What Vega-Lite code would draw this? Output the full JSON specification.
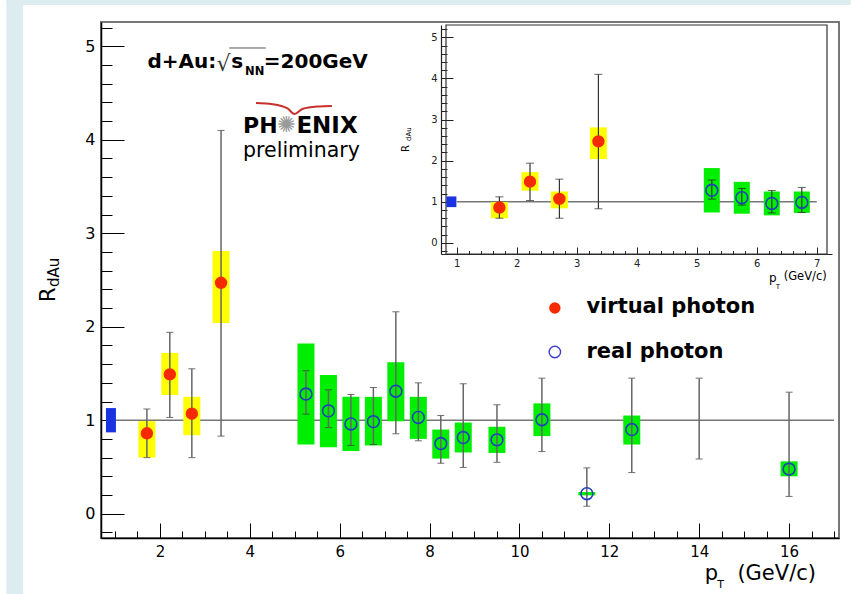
{
  "$schema": "https://vega.github.io/schema/vega-lite/v6.json",
  "width": 738,
  "height": 516,
  "autosize": {"type": "none"},
  "padding": {"left": 101, "top": 22, "right": 17, "bottom": 56},
  "background": "#ffffff",
  "config": {
    "view": {"stroke": "#777777", "strokeWidth": 2},
    "font": "DejaVu Sans",
    "axis": {"labelFont": "DejaVu Sans", "grid": false, "title": null, "domainColor": "#000000", "tickColor": "#000000", "labelColor": "#000000", "zindex": 1, "labelFlush": false, "labelOverlap": false, "format": "d"}
  },
  "datasets": {
    "virtual": [
      {"pt": 1.71, "r": 0.86, "elo": 0.60, "ehi": 1.12, "slo": 0.60, "shi": 0.99},
      {"pt": 2.22, "r": 1.49, "elo": 1.03, "ehi": 1.94, "slo": 1.27, "shi": 1.72},
      {"pt": 2.71, "r": 1.07, "elo": 0.60, "ehi": 1.55, "slo": 0.84, "shi": 1.25},
      {"pt": 3.36, "r": 2.47, "elo": 0.83, "ehi": 4.10, "slo": 2.04, "shi": 2.81}
    ],
    "real": [
      {"pt": 5.25, "r": 1.28, "elo": 1.065, "ehi": 1.53, "slo": 0.74, "shi": 1.82},
      {"pt": 5.75, "r": 1.10, "elo": 0.92, "ehi": 1.325, "slo": 0.71, "shi": 1.485},
      {"pt": 6.25, "r": 0.96, "elo": 0.73, "ehi": 1.275, "slo": 0.67, "shi": 1.25},
      {"pt": 6.75, "r": 0.985, "elo": 0.74, "ehi": 1.35, "slo": 0.73, "shi": 1.25},
      {"pt": 7.25, "r": 1.31, "elo": 0.855, "ehi": 2.16, "slo": 0.99, "shi": 1.62},
      {"pt": 7.75, "r": 1.03, "elo": 0.78, "ehi": 1.40, "slo": 0.80, "shi": 1.25},
      {"pt": 8.25, "r": 0.75, "elo": 0.54, "ehi": 1.05, "slo": 0.59, "shi": 0.90},
      {"pt": 8.75, "r": 0.815, "elo": 0.495, "ehi": 1.39, "slo": 0.655, "shi": 0.975},
      {"pt": 9.5, "r": 0.79, "elo": 0.55, "ehi": 1.165, "slo": 0.65, "shi": 0.93},
      {"pt": 10.5, "r": 1.005, "elo": 0.665, "ehi": 1.45, "slo": 0.83, "shi": 1.18},
      {"pt": 11.5, "r": 0.214, "elo": 0.08, "ehi": 0.49, "slo": 0.196, "shi": 0.232},
      {"pt": 12.5, "r": 0.90, "elo": 0.44, "ehi": 1.45, "slo": 0.74, "shi": 1.05},
      {"pt": 14, "r": null, "elo": 0.585, "ehi": 1.45, "slo": null, "shi": null},
      {"pt": 16, "r": 0.477, "elo": 0.185, "ehi": 1.30, "slo": 0.40, "shi": 0.56}
    ],
    "norm": [{"pt": 0.91, "lo": 0.87, "hi": 1.13}],
    "logo": [
      {"lx": 4.137, "ly": 4.393},
      {"lx": 4.510, "ly": 4.380},
      {"lx": 4.839, "ly": 4.335},
      {"lx": 4.993, "ly": 4.276},
      {"lx": 5.168, "ly": 4.330},
      {"lx": 5.498, "ly": 4.356},
      {"lx": 5.827, "ly": 4.362}
    ]
  },
  "resolve": {"scale": {"x": "independent", "y": "independent"}},
  "layer": [
    {
      "resolve": {"axis": {"x": "independent", "y": "independent"}},
      "layer": [
        {
          "data": {"name": "virtual"},
          "mark": {"type": "point", "opacity": 0},
          "encoding": {
            "x": {"field": "pt", "type": "quantitative", "scale": {"domain": [0.8, 17], "nice": false, "zero": false},
              "axis": {"orient": "bottom", "values": [1,1.5,2,2.5,3,3.5,4,4.5,5,5.5,6,6.5,7,7.5,8,8.5,9,9.5,10,10.5,11,11.5,12,12.5,13,13.5,14,14.5,15,15.5,16,16.5,17], "tickSize": -7, "labels": false, "domainWidth": 1.5}},
            "y": {"field": "r", "type": "quantitative", "scale": {"domain": [-0.26, 5.26], "nice": false, "zero": false},
              "axis": {"orient": "left", "values": [-0.2,0,0.2,0.4,0.6,0.8,1,1.2,1.4,1.6,1.8,2,2.2,2.4,2.6,2.8,3,3.2,3.4,3.6,3.8,4,4.2,4.4,4.6,4.8,5,5.2], "tickSize": -11, "labels": false, "domainWidth": 1.5}}
          }
        },
        {
          "data": {"name": "virtual"},
          "mark": {"type": "point", "opacity": 0},
          "encoding": {
            "x": {"field": "pt", "type": "quantitative", "scale": {"domain": [0.8, 17], "nice": false, "zero": false},
              "axis": {"orient": "bottom", "values": [2,4,6,8,10,12,14,16], "tickSize": -15, "labelPadding": 21, "labelFontSize": 15, "domain": false}},
            "y": {"field": "r", "type": "quantitative", "scale": {"domain": [-0.26, 5.26], "nice": false, "zero": false},
              "axis": {"orient": "left", "values": [0,1,2,3,4,5], "tickSize": -23, "labelPadding": 29, "labelFontSize": 16, "domain": false}}
          }
        },
        {
          "data": {"name": "norm"},
          "mark": {"type": "rect", "color": "#dcecf0"},
          "encoding": {
            "x": {"datum": -1.417, "axis": null},
            "x2": {"datum": -1.044},
            "y": {"datum": -0.859, "axis": null},
            "y2": {"datum": 5.495}
          }
        },
        {
          "data": {"name": "norm"},
          "mark": {"type": "rect", "color": "#dcecf0"},
          "encoding": {
            "x": {"datum": -1.417, "axis": null},
            "x2": {"datum": 17.373},
            "y": {"datum": 5.442, "axis": null},
            "y2": {"datum": 5.495}
          }
        },
        {
          "data": {"name": "norm"},
          "mark": {"type": "rule", "color": "#777777", "strokeWidth": 1.5},
          "encoding": {
            "x": {"datum": 1, "axis": null},
            "x2": {"datum": 17},
            "y": {"datum": 1, "axis": null}
          }
        },
        {
          "data": {"name": "norm"},
          "mark": {"type": "bar", "size": 10, "color": "#1a33e0"},
          "encoding": {
            "x": {"field": "pt", "type": "quantitative", "axis": null},
            "y": {"field": "lo", "type": "quantitative", "axis": null},
            "y2": {"field": "hi"}
          }
        },
        {
          "data": {"name": "virtual"},
          "mark": {"type": "bar", "size": 17, "color": "#ffff00"},
          "encoding": {
            "x": {"field": "pt", "type": "quantitative", "axis": null},
            "y": {"field": "slo", "type": "quantitative", "axis": null},
            "y2": {"field": "shi"}
          }
        },
        {
          "data": {"name": "real"},
          "mark": {"type": "bar", "size": 17, "color": "#00ee00"},
          "encoding": {
            "x": {"field": "pt", "type": "quantitative", "axis": null},
            "y": {"field": "slo", "type": "quantitative", "axis": null},
            "y2": {"field": "shi"}
          }
        },
        {
          "data": {"name": "virtual"},
          "mark": {"type": "errorbar", "color": "#666666", "thickness": 1.5, "ticks": {"size": 7, "color": "#333333", "thickness": 1}},
          "encoding": {
            "x": {"field": "pt", "type": "quantitative", "axis": null},
            "y": {"field": "elo", "type": "quantitative", "axis": null},
            "y2": {"field": "ehi"}
          }
        },
        {
          "data": {"name": "real"},
          "mark": {"type": "errorbar", "color": "#666666", "thickness": 1.5, "ticks": {"size": 7, "color": "#333333", "thickness": 1}},
          "encoding": {
            "x": {"field": "pt", "type": "quantitative", "axis": null},
            "y": {"field": "elo", "type": "quantitative", "axis": null},
            "y2": {"field": "ehi"}
          }
        },
        {
          "data": {"name": "virtual"},
          "mark": {"type": "point", "shape": "circle", "filled": true, "size": 154, "color": "#f52a00", "opacity": 1},
          "encoding": {
            "x": {"field": "pt", "type": "quantitative", "axis": null},
            "y": {"field": "r", "type": "quantitative", "axis": null}
          }
        },
        {
          "data": {"name": "real"},
          "mark": {"type": "point", "shape": "circle", "filled": false, "size": 140, "color": "#1f3fbf", "strokeWidth": 1.6, "opacity": 1},
          "encoding": {
            "x": {"field": "pt", "type": "quantitative", "axis": null},
            "y": {"field": "r", "type": "quantitative", "axis": null}
          }
        },
        {
          "data": {"name": "logo"},
          "mark": {"type": "line", "color": "#c8302c", "strokeWidth": 2, "interpolate": "monotone"},
          "encoding": {
            "x": {"field": "lx", "type": "quantitative", "axis": null},
            "y": {"field": "ly", "type": "quantitative", "axis": null}
          }
        },
        {
          "data": {"name": "norm"},
          "mark": {"type": "text", "text": "d+Au:", "fontWeight": "bold", "fontSize": 20, "align": "left", "baseline": "alphabetic", "color": "#000000"},
          "encoding": {"x": {"datum": 1.722, "axis": null}, "y": {"datum": 4.768, "axis": null}}
        },
        {
          "data": {"name": "norm"},
          "mark": {"type": "text", "text": "√", "fontSize": 22, "align": "left", "baseline": "alphabetic", "color": "#333333"},
          "encoding": {"x": {"datum": 3.258, "axis": null}, "y": {"datum": 4.736, "axis": null}}
        },
        {
          "data": {"name": "norm"},
          "mark": {"type": "rule", "color": "#555555", "strokeWidth": 1},
          "encoding": {"x": {"datum": 3.544, "axis": null}, "x2": {"datum": 4.356}, "y": {"datum": 4.982, "axis": null}}
        },
        {
          "data": {"name": "norm"},
          "mark": {"type": "text", "text": "s", "fontWeight": "bold", "fontSize": 20, "align": "left", "baseline": "alphabetic", "color": "#000000"},
          "encoding": {"x": {"datum": 3.588, "axis": null}, "y": {"datum": 4.768, "axis": null}}
        },
        {
          "data": {"name": "norm"},
          "mark": {"type": "text", "text": "NN", "fontWeight": "bold", "fontSize": 11.5, "align": "left", "baseline": "alphabetic", "color": "#000000"},
          "encoding": {"x": {"datum": 3.895, "axis": null}, "y": {"datum": 4.693, "axis": null}}
        },
        {
          "data": {"name": "norm"},
          "mark": {"type": "text", "text": "=200GeV", "fontWeight": "bold", "fontSize": 20, "align": "left", "baseline": "alphabetic", "color": "#000000"},
          "encoding": {"x": {"datum": 4.312, "axis": null}, "y": {"datum": 4.768, "axis": null}}
        },
        {
          "data": {"name": "norm"},
          "mark": {"type": "text", "text": "PH", "fontWeight": "bold", "fontSize": 22, "align": "left", "baseline": "alphabetic", "color": "#000000"},
          "encoding": {"x": {"datum": 3.851, "axis": null}, "y": {"datum": 4.072, "axis": null}}
        },
        {
          "data": {"name": "norm"},
          "mark": {"type": "text", "text": "✺", "fontSize": 22, "align": "center", "baseline": "middle", "color": "#9a9a9a"},
          "encoding": {"x": {"datum": 4.817, "axis": null}, "y": {"datum": 4.158, "axis": null}}
        },
        {
          "data": {"name": "norm"},
          "mark": {"type": "text", "text": "ENIX", "fontWeight": "bold", "fontSize": 23, "align": "left", "baseline": "alphabetic", "color": "#000000"},
          "encoding": {"x": {"datum": 5.037, "axis": null}, "y": {"datum": 4.072, "axis": null}}
        },
        {
          "data": {"name": "norm"},
          "mark": {"type": "text", "text": "preliminary", "fontSize": 20.5, "align": "left", "baseline": "alphabetic", "color": "#000000"},
          "encoding": {"x": {"datum": 3.851, "axis": null}, "y": {"datum": 3.815, "axis": null}}
        },
        {
          "data": {"name": "norm"},
          "mark": {"type": "point", "shape": "circle", "filled": true, "size": 130, "color": "#f52a00", "opacity": 1},
          "encoding": {"x": {"datum": 10.788, "axis": null}, "y": {"datum": 2.200, "axis": null}}
        },
        {
          "data": {"name": "norm"},
          "mark": {"type": "point", "shape": "circle", "filled": false, "size": 130, "color": "#3c3cd0", "strokeWidth": 1.4, "opacity": 1},
          "encoding": {"x": {"datum": 10.788, "axis": null}, "y": {"datum": 1.730, "axis": null}}
        },
        {
          "data": {"name": "norm"},
          "mark": {"type": "text", "text": "virtual photon", "fontWeight": "bold", "fontSize": 21, "align": "left", "baseline": "alphabetic", "color": "#000000"},
          "encoding": {"x": {"datum": 11.49, "axis": null}, "y": {"datum": 2.147, "axis": null}}
        },
        {
          "data": {"name": "norm"},
          "mark": {"type": "text", "text": "real photon", "fontWeight": "bold", "fontSize": 21, "align": "left", "baseline": "alphabetic", "color": "#000000"},
          "encoding": {"x": {"datum": 11.49, "axis": null}, "y": {"datum": 1.666, "axis": null}}
        },
        {
          "data": {"name": "norm"},
          "mark": {"type": "text", "text": "R", "fontSize": 21, "angle": 270, "align": "left", "baseline": "alphabetic", "color": "#000000"},
          "encoding": {"x": {"datum": -0.341, "axis": null}, "y": {"datum": 2.265, "axis": null}}
        },
        {
          "data": {"name": "norm"},
          "mark": {"type": "text", "text": "dAu", "fontSize": 15, "angle": 270, "align": "left", "baseline": "alphabetic", "color": "#000000"},
          "encoding": {"x": {"datum": -0.254, "axis": null}, "y": {"datum": 2.425, "axis": null}}
        },
        {
          "data": {"name": "norm"},
          "mark": {"type": "text", "text": "p", "fontSize": 21, "align": "left", "baseline": "alphabetic", "color": "#000000"},
          "encoding": {"x": {"datum": 14.124, "axis": null}, "y": {"datum": -0.709, "axis": null}}
        },
        {
          "data": {"name": "norm"},
          "mark": {"type": "text", "text": "T", "fontSize": 11, "align": "left", "baseline": "alphabetic", "color": "#000000"},
          "encoding": {"x": {"datum": 14.40, "axis": null}, "y": {"datum": -0.795, "axis": null}}
        },
        {
          "data": {"name": "norm"},
          "mark": {"type": "text", "text": "(GeV/c)", "fontSize": 21, "align": "left", "baseline": "alphabetic", "color": "#000000"},
          "encoding": {"x": {"datum": 14.85, "axis": null}, "y": {"datum": -0.709, "axis": null}}
        },
        {
          "data": {"name": "norm"},
          "mark": {"type": "text", "text": "R", "fontSize": 10, "angle": 270, "align": "left", "baseline": "alphabetic", "color": "#000000"},
          "encoding": {"x": {"datum": 7.539, "axis": null}, "y": {"datum": 3.869, "axis": null}}
        },
        {
          "data": {"name": "norm"},
          "mark": {"type": "text", "text": "dAu", "fontSize": 7, "angle": 270, "align": "left", "baseline": "alphabetic", "color": "#000000"},
          "encoding": {"x": {"datum": 7.583, "axis": null}, "y": {"datum": 3.987, "axis": null}}
        },
        {
          "data": {"name": "norm"},
          "mark": {"type": "text", "text": "p", "fontSize": 12, "align": "left", "baseline": "alphabetic", "color": "#000000"},
          "encoding": {"x": {"datum": 15.551, "axis": null}, "y": {"datum": 2.479, "axis": null}}
        },
        {
          "data": {"name": "norm"},
          "mark": {"type": "text", "text": "T", "fontSize": 7, "align": "left", "baseline": "alphabetic", "color": "#000000"},
          "encoding": {"x": {"datum": 15.705, "axis": null}, "y": {"datum": 2.404, "axis": null}}
        },
        {
          "data": {"name": "norm"},
          "mark": {"type": "text", "text": "(GeV/c)", "fontSize": 11.5, "align": "left", "baseline": "alphabetic", "color": "#000000"},
          "encoding": {"x": {"datum": 15.88, "axis": null}, "y": {"datum": 2.500, "axis": null}}
        }
      ]
    },
    {
      "resolve": {"axis": {"x": "independent", "y": "independent"}},
      "layer": [
        {
          "data": {"name": "virtual"},
          "mark": {"type": "point", "opacity": 0},
          "encoding": {
            "x": {"field": "pt", "type": "quantitative", "scale": {"domain": [0.82, 7.17], "nice": false, "zero": false, "range": [340, 731]},
              "axis": {"orient": "bottom", "offset": -284, "values": [1,1.2,1.4,1.6,1.8,2,2.2,2.4,2.6,2.8,3,3.2,3.4,3.6,3.8,4,4.2,4.4,4.6,4.8,5,5.2,5.4,5.6,5.8,6,6.2,6.4,6.6,6.8,7], "tickSize": -3.5, "labels": false, "domainWidth": 1.2, "domainColor": "#222222", "tickColor": "#222222"}},
            "y": {"field": "r", "type": "quantitative", "scale": {"domain": [-0.27, 5.3], "nice": false, "zero": false, "range": [232, 3]},
              "axis": {"orient": "left", "offset": -340, "values": [-0.2,0,0.2,0.4,0.6,0.8,1,1.2,1.4,1.6,1.8,2,2.2,2.4,2.6,2.8,3,3.2,3.4,3.6,3.8,4,4.2,4.4,4.6,4.8,5,5.2], "tickSize": -6, "labels": false, "domainWidth": 1.2, "domainColor": "#222222", "tickColor": "#222222"}}
          }
        },
        {
          "data": {"name": "virtual"},
          "mark": {"type": "point", "opacity": 0},
          "encoding": {
            "x": {"field": "pt", "type": "quantitative", "scale": {"domain": [0.82, 7.17], "nice": false, "zero": false, "range": [340, 731]},
              "axis": {"orient": "bottom", "offset": -284, "values": [1,2,3,4,5,6,7], "tickSize": -7, "labelPadding": 11, "labelFontSize": 10, "domain": false, "tickColor": "#222222", "labelColor": "#222222"}},
            "y": {"field": "r", "type": "quantitative", "scale": {"domain": [-0.27, 5.3], "nice": false, "zero": false, "range": [232, 3]},
              "axis": {"orient": "left", "offset": -340, "values": [0,1,2,3,4,5], "tickSize": -12, "labelPadding": 16, "labelFontSize": 10, "domain": false, "tickColor": "#222222", "labelColor": "#222222"}}
          }
        },
        {
          "data": {"name": "norm"},
          "mark": {"type": "rect", "filled": false, "stroke": "#333333", "strokeWidth": 1.2},
          "encoding": {
            "x": {"datum": 0.82, "axis": null},
            "x2": {"datum": 7.17},
            "y": {"datum": -0.27, "axis": null},
            "y2": {"datum": 5.3}
          }
        },
        {
          "data": {"name": "norm"},
          "mark": {"type": "rule", "color": "#777777", "strokeWidth": 1.5},
          "encoding": {
            "x": {"datum": 1, "axis": null},
            "x2": {"datum": 7},
            "y": {"datum": 1, "axis": null}
          }
        },
        {
          "data": {"name": "norm"},
          "mark": {"type": "bar", "size": 10, "color": "#1a33e0"},
          "encoding": {
            "x": {"field": "pt", "type": "quantitative", "axis": null},
            "y": {"field": "lo", "type": "quantitative", "axis": null},
            "y2": {"field": "hi"}
          }
        },
        {
          "data": {"name": "virtual"},
          "mark": {"type": "bar", "size": 17, "color": "#ffff00"},
          "encoding": {
            "x": {"field": "pt", "type": "quantitative", "axis": null},
            "y": {"field": "slo", "type": "quantitative", "axis": null},
            "y2": {"field": "shi"}
          }
        },
        {
          "data": {"name": "real"},
          "transform": [{"filter": "datum.pt < 7"}],
          "mark": {"type": "bar", "size": 16, "color": "#00ee00"},
          "encoding": {
            "x": {"field": "pt", "type": "quantitative", "axis": null},
            "y": {"field": "slo", "type": "quantitative", "axis": null},
            "y2": {"field": "shi"}
          }
        },
        {
          "data": {"name": "virtual"},
          "mark": {"type": "errorbar", "color": "#333333", "thickness": 1.2, "ticks": {"size": 8, "color": "#222222", "thickness": 1}},
          "encoding": {
            "x": {"field": "pt", "type": "quantitative", "axis": null},
            "y": {"field": "elo", "type": "quantitative", "axis": null},
            "y2": {"field": "ehi"}
          }
        },
        {
          "data": {"name": "real"},
          "transform": [{"filter": "datum.pt < 7"}],
          "mark": {"type": "errorbar", "color": "#333333", "thickness": 1.2, "ticks": {"size": 8, "color": "#222222", "thickness": 1}},
          "encoding": {
            "x": {"field": "pt", "type": "quantitative", "axis": null},
            "y": {"field": "elo", "type": "quantitative", "axis": null},
            "y2": {"field": "ehi"}
          }
        },
        {
          "data": {"name": "virtual"},
          "mark": {"type": "point", "shape": "circle", "filled": true, "size": 154, "color": "#f52a00", "opacity": 1},
          "encoding": {
            "x": {"field": "pt", "type": "quantitative", "axis": null},
            "y": {"field": "r", "type": "quantitative", "axis": null}
          }
        },
        {
          "data": {"name": "real"},
          "transform": [{"filter": "datum.pt < 7"}],
          "mark": {"type": "point", "shape": "circle", "filled": false, "size": 140, "color": "#1f3fbf", "strokeWidth": 1.6, "opacity": 1},
          "encoding": {
            "x": {"field": "pt", "type": "quantitative", "axis": null},
            "y": {"field": "r", "type": "quantitative", "axis": null}
          }
        }
      ]
    }
  ]
}
